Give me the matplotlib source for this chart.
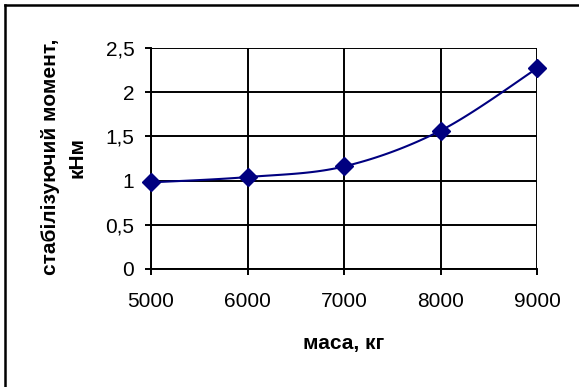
import numpy as np
import matplotlib
matplotlib.use("Agg")
import matplotlib.pyplot as plt
from matplotlib.lines import Line2D

mass = [5000, 6000, 7000, 8000, 9000]
moment = [0.98, 1.04, 1.16, 1.565, 2.27]
xticks = [5000, 6000, 7000, 8000, 9000]
yticks = [0, 0.5, 1, 1.5, 2, 2.5]
ytick_labels = ["0", "0,5", "1", "1,5", "2", "2,5"]

plt.rcParams['font.family'] = ['Liberation Sans', 'DejaVu Sans']

fig = plt.figure(figsize=(5.79, 3.87), dpi=100)
ax = fig.add_axes([151/579, 1-269/387, (537-151)/579, (269-48)/387])

# smooth curve (Catmull-Rom style Bezier, like spreadsheet smoothing)
W, H = 386.0, 221.0
px = (np.array(mass) - 5000) / 4000 * W
py = np.array(moment) / 2.5 * H
P = np.column_stack([px, py])
n = len(P)
curve = []
t = np.linspace(0, 1, 30)
for i in range(n - 1):
    p0 = P[max(i - 1, 0)]
    p1 = P[i]
    p2 = P[i + 1]
    p3 = P[min(i + 2, n - 1)]
    c1 = p1 + (p2 - p0) / 6
    c2 = p2 - (p3 - p1) / 6
    seg = ((1 - t)[:, None] ** 3 * p1 + 3 * ((1 - t) ** 2 * t)[:, None] * c1
           + 3 * ((1 - t) * t ** 2)[:, None] * c2 + (t ** 3)[:, None] * p2)
    curve.append(seg)
curve = np.vstack(curve)
cx = curve[:, 0] / W * 4000 + 5000
cy = curve[:, 1] / H * 2.5

ax.plot(cx, cy, color='#000080', lw=1.5, zorder=3, clip_on=False)
ax.plot(mass, moment, linestyle='none', marker='D', markersize=9,
        color='#000080', zorder=4, clip_on=False)

ax.set_xlim(5000, 9000)
ax.set_ylim(0, 2.5)
ax.set_xticks(xticks)
ax.set_xticklabels([str(v) for v in xticks])
ax.set_yticks(yticks)
ax.set_yticklabels(ytick_labels)
ax.grid(True, color='black', lw=1.4)
ax.set_axisbelow(True)
for s in ['top', 'right']:
    ax.spines[s].set_visible(False)
for s in ['left', 'bottom']:
    ax.spines[s].set_linewidth(1.4)
ax.tick_params(direction='out', length=4.5, width=1.4, labelsize=15)
ax.tick_params(axis='x', pad=12)
ax.tick_params(axis='y', pad=7.5)

fig.text(344/579, 1-343/387, "маса, кг", fontsize=15, fontweight='bold',
         ha='center', va='center')
fig.text(64/579, 1-157/387, "стабілізуючий момент,\nкНм", fontsize=15,
         fontweight='bold', rotation=90, ha='center', va='center',
         linespacing=1.5, multialignment='center')

fig.add_artist(Line2D([5/579, 1.02], [1-5/387, 1-5/387], color='black', lw=1.8,
                      transform=fig.transFigure))
fig.add_artist(Line2D([5/579, 5/579], [1-5/387, -0.02], color='black', lw=1.8,
                      transform=fig.transFigure))

fig.savefig("out.png", dpi=100)
